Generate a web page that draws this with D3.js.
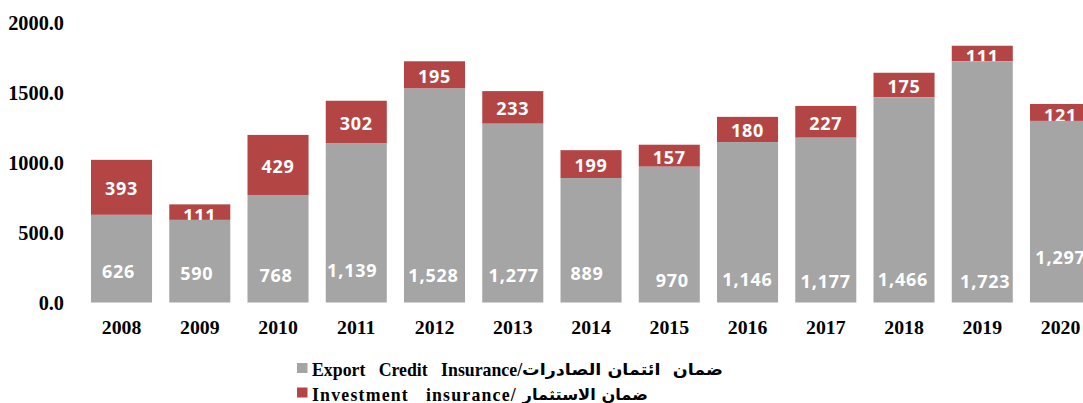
<!DOCTYPE html>
<html>
<head>
<meta charset="utf-8">
<script src="https://cdn.jsdelivr.net/npm/d3@7"></script>
<style>
  html, body { margin: 0; padding: 0; background: #fff; }
  svg { display: block; }
</style>
</head>
<body>
<svg id="chart" width="1083" height="403"></svg>
<script>
// Guarantee volumes by year
const years = ["2008", "2009", "2010", "2011", "2012", "2013", "2014",
               "2015", "2016", "2017", "2018", "2019", "2020"];
const exportCredit = [626, 590, 768, 1139, 1528, 1277, 889, 970, 1146, 1177, 1466, 1723, 1297];
const investment   = [393, 111, 429, 302, 195, 233, 199, 157, 180, 227, 175, 111, 121];
const yTicks = [0, 500, 1000, 1500, 2000];
const legendEn = ["Export   Credit   Insurance/", "Investment   insurance/ "];
const legendAr = ["ضمان  ائتمان الصادرات", "ضمان الاستثمار"];

// Hand placement of the grey value labels (pixels above the baseline, horizontal nudge)
const greyLift = [32, 30, 28, 33, 28, 28, 30, 23, 24, 22, 24, 22, 46];
const greyNudge = [-3, -3, -2, -4, -1, 1, -4, 3, 0, 0, -1, 3, 0];

const GREY = "#A5A5A5";
const RED = "#B34545";

const svg = d3.select("#chart");

const x = d3.scaleBand()
  .domain(years)
  .range([82.4, 82.4 + 78.25 * years.length])
  .paddingInner(0.22)
  .paddingOuter(0.11);

const y = d3.scaleLinear().domain([0, 2000]).range([302.5, 22.5]);

// Y axis: labels only
const yAxis = svg.append("g")
  .attr("transform", "translate(66,0)")
  .call(d3.axisLeft(y).tickValues(yTicks).tickFormat(d3.format(".1f")).tickSize(0).tickPadding(2));
yAxis.select(".domain").remove();
yAxis.selectAll("text")
  .attr("font-family", "'Liberation Serif', 'Times New Roman', serif")
  .attr("font-weight", "bold")
  .attr("font-size", "20.3px")
  .attr("fill", "#000");

// X axis: year labels under the bars
const xAxis = svg.append("g")
  .attr("transform", `translate(0,${y(0)})`)
  .call(d3.axisBottom(x).tickSize(0).tickPadding(0));
xAxis.select(".domain").remove();
xAxis.selectAll("text")
  .attr("dy", null)
  .attr("y", 24)
  .attr("dominant-baseline", "central")
  .attr("font-family", "'Liberation Serif', 'Times New Roman', serif")
  .attr("font-weight", "bold")
  .attr("font-size", "19.8px")
  .attr("fill", "#000");

const rows = years.map((yr, i) => ({
  year: yr, i, ec: exportCredit[i], inv: investment[i]
}));

const labelFont = "'Open Sans', 'Noto Sans', sans-serif";
const fmt = d3.format(",");

// Investment segment (top of each stack) and its value
const invLayer = svg.append("g");
invLayer.selectAll("rect").data(rows).join("rect")
  .attr("x", d => x(d.year))
  .attr("width", x.bandwidth())
  .attr("y", d => y(d.ec + d.inv))
  .attr("height", d => y(d.ec) - y(d.ec + d.inv))
  .attr("fill", RED);
invLayer.selectAll("text").data(rows).join("text")
  .attr("x", d => x(d.year) + x.bandwidth() / 2)
  .attr("y", d => (y(d.ec) + y(d.ec + d.inv)) / 2 + (d.inv < 130 ? 2.5 : 1))
  .attr("text-anchor", "middle")
  .attr("dominant-baseline", "central")
  .attr("font-family", labelFont)
  .attr("font-weight", "bold")
  .attr("font-size", "18px")
  .attr("letter-spacing", "0.8px")
  .attr("fill", "#fff")
  .text(d => fmt(d.inv));

// Export credit segment (base of each stack) and its value
const ecLayer = svg.append("g");
ecLayer.selectAll("rect").data(rows).join("rect")
  .attr("x", d => x(d.year))
  .attr("width", x.bandwidth())
  .attr("y", d => y(d.ec))
  .attr("height", d => y(0) - y(d.ec))
  .attr("fill", GREY);
ecLayer.selectAll("text").data(rows).join("text")
  .attr("x", d => x(d.year) + x.bandwidth() / 2 + greyNudge[d.i])
  .attr("y", d => y(0) - greyLift[d.i])
  .attr("text-anchor", "middle")
  .attr("dominant-baseline", "central")
  .attr("font-family", labelFont)
  .attr("font-weight", "bold")
  .attr("font-size", "18px")
  .attr("letter-spacing", "0.8px")
  .attr("fill", "#fff")
  .text(d => fmt(d.ec));

// Legend: English name in serif, Arabic name fitted up to its line end
const legendX = 297;
const legendRows = [
  { color: GREY, en: legendEn[0], ar: legendAr[0], y: 370, arEnd: 723, ls: 0 },
  { color: RED, en: legendEn[1], ar: legendAr[1], y: 394.5, arEnd: 648, ls: 1.2 }
];
const legend = svg.append("g");
legendRows.forEach(r => {
  legend.append("rect")
    .attr("x", legendX).attr("y", r.y - 7)
    .attr("width", 10.5).attr("height", 10)
    .attr("fill", r.color);
  const en = legend.append("text")
    .attr("x", legendX + 15).attr("y", r.y)
    .attr("dominant-baseline", "central")
    .attr("fill", "#000")
    .style("white-space", "pre")
    .attr("font-family", "'Liberation Serif', 'Times New Roman', serif")
    .attr("font-weight", "bold")
    .attr("font-size", "17.8px")
    .attr("letter-spacing", `${r.ls}px`)
    .text(r.en);
  const arStart = legendX + 15 + en.node().getComputedTextLength();
  const ar = legend.append("text")
    .attr("x", 0).attr("y", 0)
    .attr("dominant-baseline", "central")
    .attr("fill", "#000")
    .style("white-space", "pre")
    .attr("font-family", "'DejaVu Sans', sans-serif")
    .attr("font-weight", "bold")
    .attr("font-size", "15.5px")
    .text(r.ar);
  const natural = ar.node().getComputedTextLength();
  const sx = (r.arEnd - arStart) / natural;
  ar.attr("transform", `translate(${arStart},${r.y}) scale(${sx},1)`);
});
</script>
</body>
</html>
